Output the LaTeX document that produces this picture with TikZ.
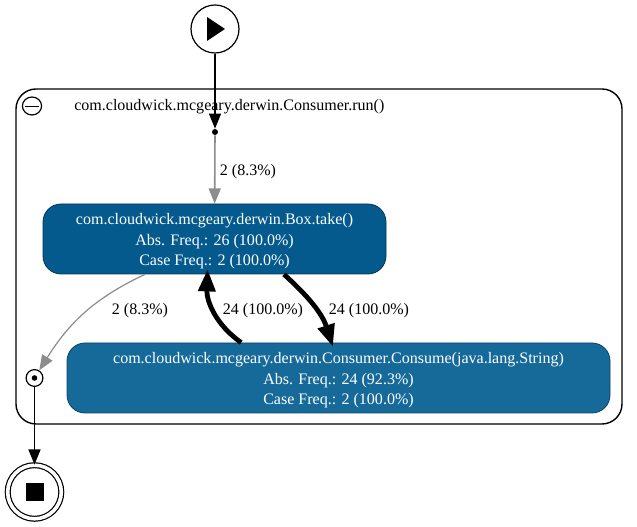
\documentclass[tikz,border=0pt]{standalone}
\usepackage{fontspec}
\setmainfont{Liberation Serif}
\usetikzlibrary{arrows.meta}
\usetikzlibrary{shapes.geometric}

\definecolor{takeblue}{HTML}{045A8D}
\definecolor{consumeblue}{HTML}{166A9A}
\definecolor{edgegray}{HTML}{8C8C8C}

\tikzset{
  activity/.style={draw=black!40!#1, fill=#1, text=white, line width=0.02cm,
                   rounded corners=0.45cm, minimum height=1.75cm, inner sep=0cm,
                   align=center, font=\fontsize{11.4}{14.5}\selectfont},
  marker/.style={draw, circle, line width=0.03cm, inner sep=0cm},
  thinflow/.style={line width=0.04cm, -{Triangle[length=0.38cm, width=0.3cm]}},
  thickflow/.style={line width=0.12cm, -{Triangle[length=0.55cm, width=0.42cm]}},
  freqlabel/.style={font=\fontsize{11.4}{12}\selectfont, inner sep=0cm}
}

\begin{document}
\begin{tikzpicture}
\useasboundingbox (0,0) rectangle (15.925,13.175);

\draw (7.975, 6.7625) node[draw, line width=0.035cm, rounded corners=0.5cm,
       minimum width=15.15cm, minimum height=8.375cm, inner sep=0cm] (cluster) {};
\draw (0.8, 10.525) node[draw, ellipse, line width=0.03cm, inner sep=0cm,
       minimum width=0.48cm, minimum height=0.45cm] (collapse) {};
\draw (collapse.west) ++(0.08,0) -- ([xshift=-0.08cm]collapse.east);
\draw (1.85, 10.5) node[freqlabel, anchor=west] (title) {com.cloudwick.mcgeary.derwin.Consumer.run()};

\draw (5.375, 12.45) node[marker, minimum size=1.2cm] (start) {};
\fill (5.175, 12.75) -- (5.175, 12.15) -- (5.625, 12.45) -- cycle;

\draw (5.375, 9.875) node[circle, fill, minimum size=0.15cm, inner sep=0cm] (split) {};

\draw (5.3625, 7.2) node[activity=takeblue, minimum width=8.575cm] (take)
  {\rule{0pt}{0.4cm}com.cloudwick.mcgeary.derwin.Box.take()\\Abs. Freq.: 26 (100.0\%)\\Case Freq.: 2 (100.0\%)};
\draw (8.4625, 3.725) node[activity=consumeblue, minimum width=13.575cm] (consume)
  {\rule{0pt}{0.4cm}com.cloudwick.mcgeary.derwin.Consumer.Consume(java.lang.String)\\Abs. Freq.: 24 (92.3\%)\\Case Freq.: 2 (100.0\%)};

\draw (0.8625, 3.725) node[marker, minimum size=0.42cm] (join) {};
\fill (join) circle (0.07cm);

\draw (0.8625, 0.875) node[marker, double, double distance=0.09cm, minimum size=1.34cm] (stop) {};
\draw (stop) node[fill, minimum size=0.45cm, inner sep=0cm] (stopmark) {};

\draw[thinflow] (start) -- (split);
\draw[thinflow, edgegray] (split) -- (take);
\draw[thickflow] (consume.160) to[out=145, in=-92] ([yshift=0.125cm]take.-101);
\draw[thickflow] (take.-27) to[out=-42, in=108] ([yshift=-0.1cm]consume.99);
\draw[thinflow, edgegray, line width=0.03cm] (take.-153) to[out=205, in=58] (join);
\draw[thinflow] (join) -- (stop);

\draw (6.2, 8.875) node[freqlabel] (lblsplit) {2 (8.3\%)};
\draw (3.5, 5.4) node[freqlabel] (lbljoin) {2 (8.3\%)};
\draw (6.575, 5.4) node[freqlabel] (lblback) {24 (100.0\%)};
\draw (9.225, 5.4) node[freqlabel] (lblforth) {24 (100.0\%)};
\end{tikzpicture}
\end{document}
